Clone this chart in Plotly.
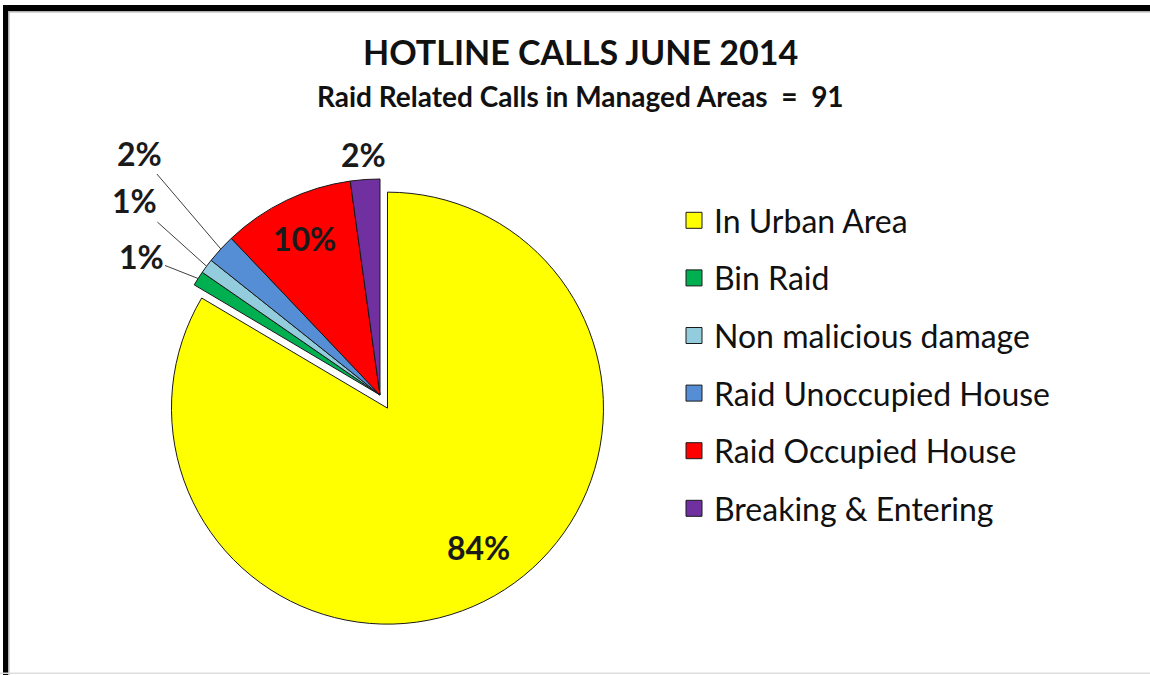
import math
import plotly.graph_objects as go

# ---- data ----
categories = ["In Urban Area", "Bin Raid", "Non malicious damage",
              "Raid Unoccupied House", "Raid Occupied House", "Breaking & Entering"]
calls = [76, 1, 1, 2, 9, 2]
colors = ["#FFFF00", "#00B050", "#93CDDD", "#558ED5", "#FF0000", "#7030A0"]
pulls = [0.07, 0, 0, 0, 0, 0]
title_text = "HOTLINE CALLS JUNE 2014"
subtitle_text = "Raid Related Calls in Managed Areas  =  91"

# ---- layout geometry (pixels) ----
W, H = 1150, 675
CX, CY, R = 380, 395, 216
FONT = "Lato"


def px(x):
    return x / W


def py(y):
    return 1 - y / H


maxpull = max(pulls)
half = R * (1 + maxpull)

fig = go.Figure()
fig.add_trace(go.Pie(
    labels=categories, values=calls, sort=False, direction="clockwise", rotation=0,
    marker=dict(colors=colors, line=dict(color="#1a1a1a", width=1)),
    pull=pulls, textinfo="none", showlegend=False,
    domain=dict(x=[px(CX - half), px(CX + half)], y=[py(CY + half), py(CY - half)]),
))

# legend entries
for cat, col in zip(categories, colors):
    fig.add_trace(go.Scatter(
        x=[None], y=[None], mode="markers", name=cat, legendgroup=cat,
        marker=dict(symbol="square", size=16, color=col, line=dict(color="#1a1a1a", width=1)),
    ))

# ---- slice labels computed from data ----
total = sum(calls)
# style per slice: (mode, radial fraction, angle nudge deg, label center px for leader)
label_style = {
    0: ("inside", 0.77, -3.7, None),
    1: ("leader", None, 0, (141, 256)),
    2: ("leader", None, 0, (134, 201)),
    3: ("leader", None, 0, (139, 153)),
    4: ("inside", 0.805, 0, None),
    5: ("inside", 1.115, 0, None),
}
label_font = dict(family=FONT, size=32, color="#1a1a1a", weight="bold")
annotations = []
cum = 0
for i, v in enumerate(calls):
    mid = 360 * (cum + v / 2) / total
    cum += v
    pct = f"{round(100 * v / total)}%"
    mode, frac, nudge, lab = label_style[i]
    shift = pulls[i] * R
    cx = CX + shift * math.sin(math.radians(mid))
    cy = CY - shift * math.cos(math.radians(mid))
    ang = math.radians(mid + nudge)
    if mode == "inside":
        lx = cx + frac * R * math.sin(ang)
        ly = cy - frac * R * math.cos(ang)
        annotations.append(dict(x=px(lx), y=py(ly), xref="paper", yref="paper", text=pct,
                                xanchor="center", yanchor="middle",
                                showarrow=False, font=label_font))
    else:
        tx = cx + R * math.sin(ang)
        ty = cy - R * math.cos(ang)
        annotations.append(dict(x=px(tx), y=py(ty), xref="paper", yref="paper", text=pct,
                                xanchor="center", yanchor="middle",
                                showarrow=True, arrowhead=0, arrowwidth=1, arrowcolor="#404040",
                                ax=lab[0] - tx, ay=lab[1] - ty, standoff=0,
                                font=label_font))

annotations.append(dict(x=px(580), y=py(51), xref="paper", yref="paper", text=title_text,
                        xanchor="center", yanchor="middle",
                        showarrow=False, font=dict(family=FONT, size=34, color="#111", weight="bold")))
annotations.append(dict(x=px(580), y=py(96), xref="paper", yref="paper", text=subtitle_text,
                        xanchor="center", yanchor="middle",
                        showarrow=False, font=dict(family=FONT, size=28, color="#111", weight="bold")))

# frame
shapes = [
    dict(type="rect", xref="paper", yref="paper", x0=px(3), x1=px(W), y0=py(11), y1=py(5),
         fillcolor="black", line=dict(width=0), layer="above"),
    dict(type="rect", xref="paper", yref="paper", x0=px(3), x1=px(8), y0=py(H), y1=py(5),
         fillcolor="black", line=dict(width=0), layer="above"),
    dict(type="rect", xref="paper", yref="paper", x0=px(8), x1=px(W), y0=py(12.5), y1=py(11),
         fillcolor="#b0b0b0", line=dict(width=0), layer="above"),
    dict(type="rect", xref="paper", yref="paper", x0=px(8), x1=px(9.5), y0=py(H), y1=py(11),
         fillcolor="#b0b0b0", line=dict(width=0), layer="above"),
    dict(type="rect", xref="paper", yref="paper", x0=px(0), x1=px(W), y0=py(674), y1=py(672.5),
         fillcolor="#dddddd", line=dict(width=0), layer="above"),
]

fig.update_layout(
    width=W, height=H, autosize=False,
    margin=dict(l=0, r=0, t=0, b=0),
    paper_bgcolor="white", plot_bgcolor="white",
    xaxis=dict(visible=False), yaxis=dict(visible=False),
    annotations=annotations, shapes=shapes,
    legend=dict(x=px(674), xanchor="left", y=py(193), yanchor="top",
                font=dict(family=FONT, size=32, color="#111"),
                tracegroupgap=13, itemwidth=30, bgcolor="rgba(0,0,0,0)"),
)

fig.write_html("out.html", config={"displayModeBar": False},
               post_script="document.body.style.margin='0';document.body.style.overflow='hidden';")
